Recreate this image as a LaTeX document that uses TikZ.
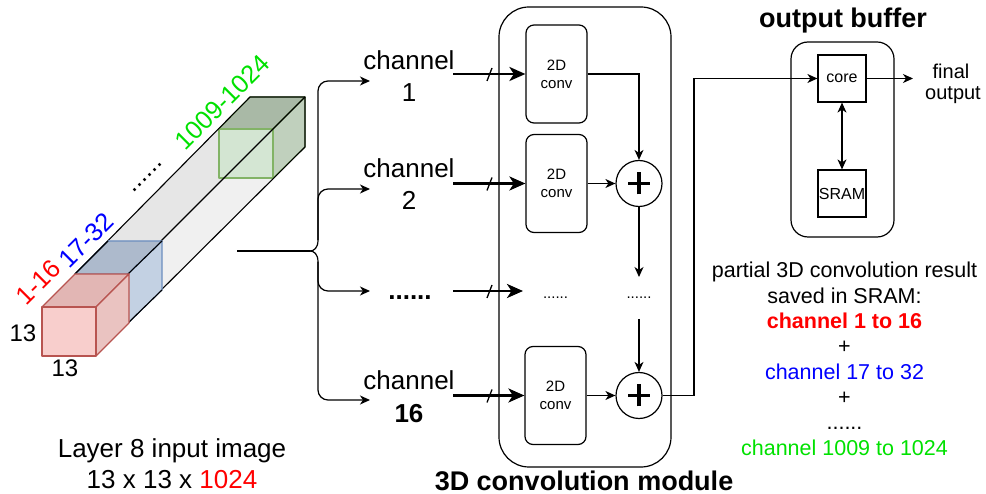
\documentclass[tikz,border=0pt]{standalone}
\usepackage{fontspec}
\setmainfont{Liberation Sans}
\usetikzlibrary{arrows.meta}
\newcommand{\myfs}[2]{\fontsize{#1}{#2}\selectfont}

\definecolor{redtxt}{RGB}{255,0,0}
\definecolor{bluetxt}{RGB}{0,0,255}
\definecolor{greentxt}{RGB}{0,225,0}
\definecolor{redfront}{HTML}{F8CECC}
\definecolor{redtop}{HTML}{E2B6B4}
\definecolor{redside}{HTML}{EAC3C1}
\definecolor{redline}{HTML}{B85450}
\definecolor{bluetop}{HTML}{ADBACC}
\definecolor{blueside}{HTML}{C3D1E3}
\definecolor{blueline}{HTML}{6C8EBF}
\definecolor{greenfront}{HTML}{D0E5CF}
\definecolor{greentop}{HTML}{A9B9A6}
\definecolor{greenside}{HTML}{C0D0BD}
\definecolor{greenline}{HTML}{82B366}
\definecolor{bartop}{HTML}{E6E6E6}
\definecolor{barside}{HTML}{F0F0F0}

\begin{document}
\begin{tikzpicture}[x=1pt,y=-1pt,
  lbl/.style={inner sep=0pt, anchor=base, font=\myfs{26}{31}},
  small/.style={inner sep=0pt, anchor=base, font=\myfs{21.5}{26}},
  tilted/.style={inner sep=0pt, rotate=45, font=\myfs{25.5}{30}},
  box/.style={draw, line width=1.2pt, inner sep=0pt},
  convbox/.style={box, rounded corners=8pt, minimum width=61pt, minimum height=98pt,
    align=center, font=\myfs{15}{18}},
  sqbox/.style={box, minimum width=48pt, minimum height=47pt, font=\myfs{16}{19}},
  sumnode/.style={box, circle, minimum size=46pt,
    path picture={\draw[line width=3.8pt]
      ([xshift=-11pt]path picture bounding box.center) -- ([xshift=11pt]path picture bounding box.center)
      ([yshift=-11pt]path picture bounding box.center) -- ([yshift=11pt]path picture bounding box.center);}},
  arr/.style={-{Stealth[length=10pt,width=9pt,inset=3pt]}, line width=1.2pt},
  dblarr/.style={{Stealth[length=10pt,width=9pt,inset=3pt]}-{Stealth[length=10pt,width=9pt,inset=3pt]}, line width=1.2pt},
  thickarr/.style={-{Stealth[length=16pt,width=14pt,inset=4.5pt]}, line width=2.9pt},
  slash/.style={line width=1.3pt},
  edge/.style={line width=1.1pt, line join=round}
]
\useasboundingbox (0,0) rectangle (986,494);

% ---------- input feature map: long bar with three channel slices ----------
% bar faces
\fill[bartop] (75,274) -- (128,274) -- (305,97) -- (250,97) -- cycle;
\fill[barside] (128,274) -- (305,97) -- (305,147) -- (128,323) -- cycle;
% last slice (green)
\filldraw[fill=greentop, draw=greenline, edge] (219,129) -- (250,97) -- (305,97) -- (273,129) -- cycle;
\filldraw[fill=greenside, draw=greenline, edge] (273,129) -- (305,97) -- (305,147) -- (273,178) -- cycle;
\filldraw[fill=greenfront, fill opacity=0.85, draw=greenline, edge] (219,129) rectangle (273,178);
% bar outline
\draw[edge] (75,274) -- (250,97) -- (305,97) -- (305,147) -- (128,323);
\draw[edge] (128,274) -- (305,97);
% second slice (blue)
\filldraw[fill=bluetop, draw=blueline, edge] (75,274) -- (108,241) -- (162,241) -- (128,274) -- cycle;
\filldraw[fill=blueside, draw=blueline, edge] (128,274) -- (162,241) -- (162,290) -- (128,323) -- cycle;
\draw[edge] (75,274) -- (108,241);
\draw[edge] (128,274) -- (162,241);
\draw[edge] (128,274) -- (128,323) -- (162,290);
% first slice (red)
\filldraw[fill=redtop, draw=redline, edge] (42,307) -- (75,274) -- (129,274) -- (96,307) -- cycle;
\filldraw[fill=redside, draw=redline, edge] (96,307) -- (129,274) -- (129,323) -- (96,356) -- cycle;
\filldraw[fill=redfront, draw=redline, edge] (42,307) rectangle (96,356);

% slice labels
\node[tilted, text=redtxt] (l1) at (38,282) {1-16};
\node[tilted, text=bluetxt] (l2) at (86,240) {17-32};
\node[tilted, text=greentxt] (l3) at (222,102) {1009-1024};
\node[tilted] (l4) at (148,178) {......};
\node[inner sep=0pt, font=\myfs{24}{28}] (h) at (23,333) {13};
\node[inner sep=0pt, font=\myfs{24}{28}] (w) at (65,368) {13};

\node[lbl] (cap1) at (172,457) {Layer 8 input image};
\node[lbl] (cap2) at (172,488) {13 x 13 x \textcolor{redtxt}{1024}};

% ---------- splitting brace ----------
\coordinate (bin) at (237,251);
\coordinate (btip) at (310,251);
\coordinate (btop) at (318,240);
\coordinate (bbot) at (318,262);
\draw[line width=1.2pt] (bin) -- (btip);
\draw[line width=1.2pt] (btip) .. controls (314,251) and (318,248) .. (btop);
\draw[line width=1.2pt] (btip) .. controls (314,251) and (318,254) .. (bbot);
\coordinate (a1) at (370,81);
\coordinate (a2) at (370,189);
\coordinate (a3) at (370,291);
\coordinate (a4) at (370,400);
\draw[arr, rounded corners=10pt] (btop) |- (a1);
\draw[arr, rounded corners=10pt] (btop) |- (a2);
\draw[arr, rounded corners=10pt] (bbot) |- (a3);
\draw[arr, rounded corners=10pt] (bbot) |- (a4);

% channel labels
\node[lbl] (ch1) at (409,70) {channel};
\node[lbl] (n1) at (409,102) {1};
\node[lbl] (ch2) at (409,178) {channel};
\node[lbl] (n2) at (409,210) {2};
\node[lbl, font=\myfs{26}{31}\bfseries] (chd) at (410,300) {......};
\node[lbl] (ch16) at (409,390) {channel};
\node[lbl, font=\myfs{26}{31}\bfseries] (n16) at (409,422) {16};

% ---------- 3D convolution module ----------
\node[box, rounded corners=30pt, minimum width=172pt, minimum height=460pt] (mod) at (585,237) {};
\node[lbl, font=\myfs{27}{32}\bfseries] (modlbl) at (584,490) {3D convolution module};

\node[convbox] (conv1) at (556.5,74) {2D\\conv};
\node[convbox] (conv2) at (556.5,183.5) {2D\\conv};
\node[convbox] (conv16) at (555.5,395.5) {2D\\conv};
\node[sumnode] (sum1) at (639,183.5) {};
\node[sumnode] (sum2) at (639,395.5) {};
\node[inner sep=0pt, anchor=base, font=\myfs{15}{18}] (dm) at (555.5,299) {......};
\node[inner sep=0pt, anchor=base, font=\myfs{15}{18}] (ds) at (639,299) {......};

% channel inputs
\coordinate (s1) at (453,74);
\coordinate (s2) at (453,183.5);
\coordinate (s3) at (453,291);
\coordinate (e3) at (523,291);
\coordinate (s4) at (453,395.5);
\draw[thickarr] (s1) -- (conv1.west);
\draw[thickarr] (s2) -- (conv2.west);
\draw[thickarr] (s3) -- (e3);
\draw[thickarr] (s4) -- (conv16.west);
\foreach \yy in {74,183.5,291,395.5}
  \draw[slash] (487,\yy+7) -- (492,\yy-6);

% accumulation path
\coordinate (d1) at (639,277);
\coordinate (d2) at (639,319);
\draw[arr] (conv1.east) -| (sum1.north);
\draw[arr] (conv2.east) -- (sum1.west);
\draw[arr] (sum1.south) -- (d1);
\draw[arr] (d2) -- (sum2.north);
\draw[arr] (conv16.east) -- (sum2.west);

% ---------- output buffer ----------
\node[lbl, font=\myfs{27}{32}\bfseries] (oblbl) at (843,28) {output buffer};
\node[box, rounded corners=17pt, minimum width=103pt, minimum height=195pt] (ob) at (842.5,139.5) {};
\node[sqbox] (core) at (842,78.5) {core};
\node[sqbox] (sram) at (842,193.5) {SRAM};
\draw[dblarr] (core.south) -- (sram.north);

\coordinate (bend) at (694,78.5);
\draw[arr] (sum2.east) -| (bend) -- (core.west);
\coordinate (fout) at (913,78.5);
\draw[arr] (core.east) -- (fout);
\node[inner sep=0pt, anchor=base, font=\myfs{20}{24}] (fo1) at (951,79) {final};
\node[inner sep=0pt, anchor=base, font=\myfs{20}{24}] (fo2) at (953,100) {output};

% ---------- notes ----------
\node[small] (t1) at (844.5,278) {partial 3D convolution result};
\node[small] (t2) at (844.5,303.3) {saved in SRAM:};
\node[small, text=redtxt, font=\myfs{21.5}{26}\bfseries] (t3) at (844.5,328.6) {channel 1 to 16};
\node[small] (t4) at (844.5,353.9) {+};
\node[small, text=bluetxt] (t5) at (844.5,379.2) {channel 17 to 32};
\node[small] (t6) at (844.5,404.5) {+};
\node[small] (t7) at (844.5,429.8) {......};
\node[small, text=greentxt] (t8) at (844.5,455.1) {channel 1009 to 1024};
\end{tikzpicture}
\end{document}
